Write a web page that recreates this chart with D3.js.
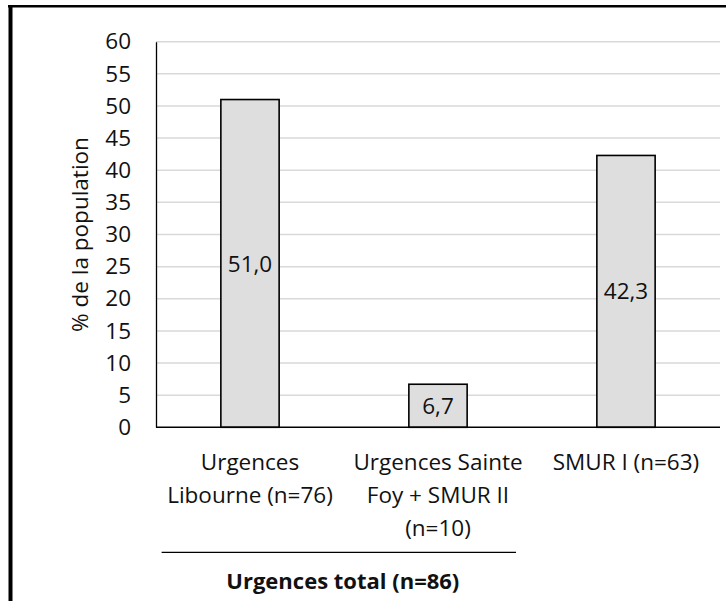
<!DOCTYPE html>
<html>
<head>
<meta charset="utf-8">
<script src="https://cdn.jsdelivr.net/npm/d3@7"></script>
<style>
  html, body { margin: 0; padding: 0; background: #fff; }
  svg { display: block; }
  text { font-family: "Open Sans", sans-serif; fill: #111; }
</style>
</head>
<body>
<svg id="chart" width="726" height="601"></svg>
<script>
// ---- data ----
const categories = ["Urgences Libourne (n=76)", "Urgences Sainte Foy + SMUR II (n=10)", "SMUR I (n=63)"];
const categoryLines = [
  ["Urgences", "Libourne (n=76)"],
  ["Urgences Sainte", "Foy + SMUR II", "(n=10)"],
  ["SMUR I (n=63)"]
];
const values = [51.0, 6.7, 42.3];
const yTicks = [0, 5, 10, 15, 20, 25, 30, 35, 40, 45, 50, 55, 60];
const yTitle = "% de la population";
const groupLabel = "Urgences total (n=86)";
const groupCategories = [categories[0], categories[1]];

// ---- layout ----
const svg = d3.select("#chart");
const plot = { left: 156, right: 720, top: 41.7, bottom: 427.3 };
const fontSize = 22.5;

const x = d3.scaleBand().domain(categories).range([plot.left, plot.right]).paddingInner(0.69).paddingOuter(0.345);
const y = d3.scaleLinear().domain([0, 60]).range([plot.bottom, plot.top]);

// outer frame (top and left only)
svg.append("line").attr("x1", 8).attr("x2", 726).attr("y1", 6.2).attr("y2", 6.2)
  .attr("stroke", "#000").attr("stroke-width", 2.6);
svg.append("line").attr("x1", 10.5).attr("x2", 10.5).attr("y1", 5).attr("y2", 601)
  .attr("stroke", "#000").attr("stroke-width", 4);

// gridlines
svg.append("g").selectAll("line").data(yTicks.filter(d => d > 0)).join("line")
  .attr("x1", plot.left).attr("x2", plot.right)
  .attr("y1", d => y(d)).attr("y2", d => y(d))
  .attr("stroke", "#d9d9d9").attr("stroke-width", 1.5);

// y axis
const yAxis = svg.append("g").attr("transform", `translate(${plot.left},0)`)
  .call(d3.axisLeft(y).tickValues(yTicks).tickSize(0).tickPadding(25).tickFormat(d3.format("d")));
yAxis.select(".domain").attr("stroke", "#000").attr("stroke-width", 1.3);
yAxis.selectAll("text").attr("font-size", fontSize).attr("font-family", "Open Sans").attr("fill", "#111");

// bars
svg.append("g").selectAll("rect").data(values).join("rect")
  .attr("x", (d, i) => x(categories[i]))
  .attr("width", x.bandwidth())
  .attr("y", d => y(d))
  .attr("height", d => y(0) - y(d))
  .attr("fill", "#dedede").attr("stroke", "#000").attr("stroke-width", 1.6);

// bar labels
svg.append("g").selectAll("text").data(values).join("text")
  .attr("x", (d, i) => x(categories[i]) + x.bandwidth() / 2)
  .attr("y", d => (y(d) + y(0)) / 2)
  .attr("dy", "0.36em")
  .attr("text-anchor", "middle").attr("font-size", fontSize)
  .text(d => d3.format(".1f")(d).replace(".", ","));

// x axis line
svg.append("line").attr("x1", plot.left).attr("x2", plot.right)
  .attr("y1", y(0)).attr("y2", y(0)).attr("stroke", "#000").attr("stroke-width", 1.6);

// category labels
const lineHeight = 33;
categoryLines.forEach((lines, i) => {
  const cx = x(categories[i]) + x.bandwidth() / 2;
  const t = svg.append("text").attr("text-anchor", "middle").attr("font-size", fontSize);
  lines.forEach((ln, j) => {
    t.append("tspan").attr("x", cx).attr("y", 470 + j * lineHeight).text(ln);
  });
});

// y axis title
svg.append("text")
  .attr("transform", `translate(88,${(plot.top + plot.bottom) / 2}) rotate(-90)`)
  .attr("text-anchor", "middle").attr("font-size", fontSize)
  .text(yTitle);

// group bracket line and label
const gx0 = x(groupCategories[0]) - x.step() * 0.315;
const gx1 = x(groupCategories[1]) + x.bandwidth() + x.step() * 0.26;
svg.append("line").attr("x1", gx0).attr("x2", gx1).attr("y1", 552.3).attr("y2", 552.3)
  .attr("stroke", "#000").attr("stroke-width", 1.2);
svg.append("text").attr("x", (gx0 + gx1) / 2 + 4).attr("y", 589)
  .attr("text-anchor", "middle").attr("font-size", 22).attr("font-weight", "bold")
  .text(groupLabel);
</script>
</body>
</html>
